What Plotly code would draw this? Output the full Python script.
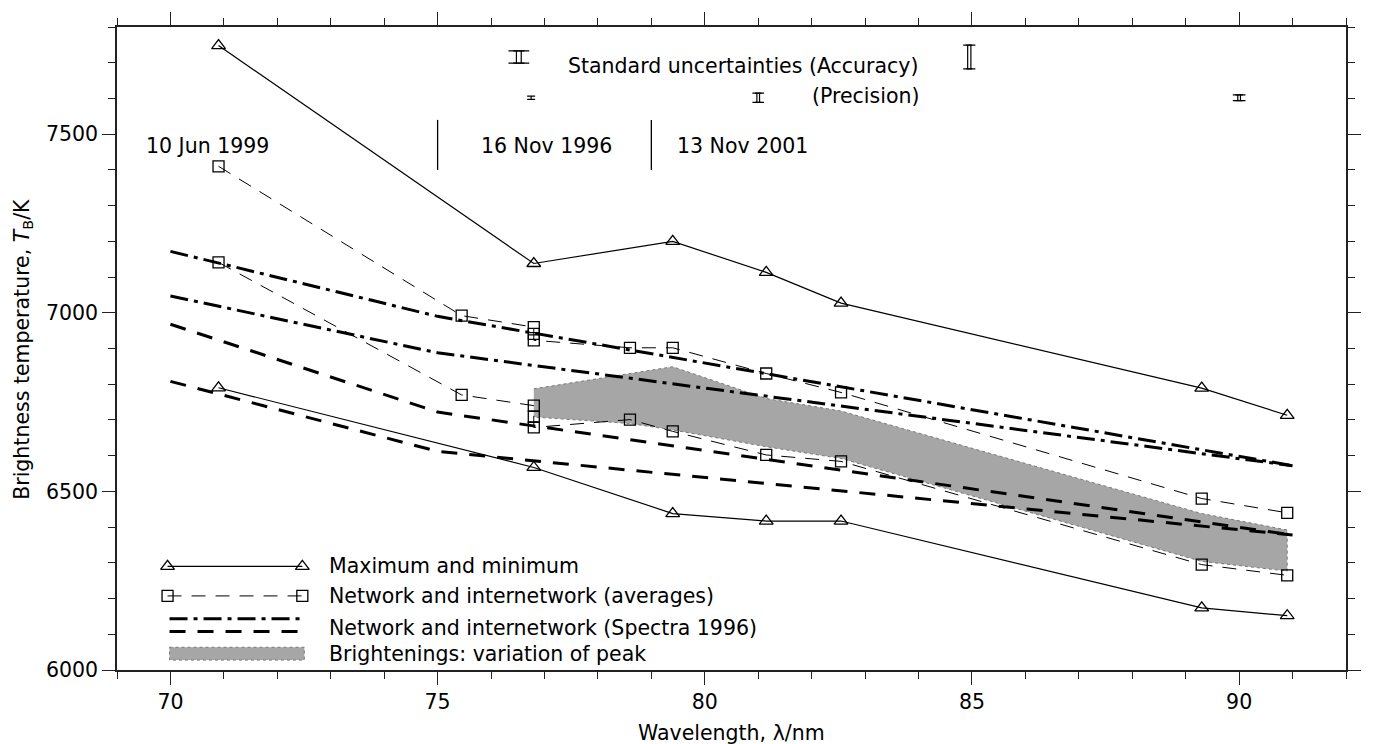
import plotly.graph_objects as go

FONT = "DejaVu Sans"
FS = 20.5

# ---- maximum / minimum brightness temperatures (K) ----
wl_ext = [70.9, 76.8, 79.4, 81.15, 82.55, 89.3, 90.9]
t_max = [7748, 7138, 7200, 7113, 7027, 6789, 6713]
t_min = [6790, 6567, 6438, 6417, 6417, 6174, 6152]

# ---- network / internetwork averages ----
wl_avg = [70.9, 75.45, 76.8, 76.8, 76.8, 78.6, 79.4, 81.15, 82.55, 89.3, 90.9]
t_net_avg = [7410, 6992, 6960, 6941, 6923, 6902, 6902, 6830, 6777, 6480, 6440]
t_inet_avg = [7141, 6770, 6740, 6709, 6679, 6701, 6668, 6602, 6584, 6295, 6265]

# ---- network / internetwork from the 1996 spectra ----
wl_spec = [70.0, 75.0, 91.0]
t_net_spec_a = [7172, 6990, 6572]
t_net_spec_b = [7047, 6888, 6572]
t_inet_spec_a = [6968, 6722, 6378]
t_inet_spec_b = [6808, 6612, 6378]

# ---- brightenings: range of peak values ----
wl_band_top = [76.8, 79.4, 81.15, 82.55, 89.3, 90.9]
t_band_top = [6787, 6849, 6760, 6725, 6438, 6392]
wl_band_bot = [76.8, 78.6, 79.4, 81.15, 82.55, 89.3, 90.9]
t_band_bot = [6708, 6690, 6672, 6625, 6592, 6304, 6277]

# ---- standard uncertainty markers ----
acc_wl = [76.52, 84.95]
acc_half = [17, 33]
acc_cap = [8, 4.5]
acc_T = 7716
prec_wl = [76.75, 81.0, 90.0]
prec_half = [4.6, 13, 8]
prec_cap = [4, 4.5, 5]
prec_T = 7602

# ---- observation dates ----
date_labels = ["10 Jun 1999", "16 Nov 1996", "13 Nov 2001"]
date_wl = [70.7, 77.03, 80.7]
date_T = 7468
date_breaks = [75, 79]

legend_labels = [
    "Maximum and minimum",
    "Network and internetwork (averages)",
    "Network and internetwork (Spectra 1996)",
    "Brightenings: variation of peak",
]

W, H = 1373, 744
ML, MR, MT, MB = 117, 16, 19, 74
PW, PH = W - ML - MR, H - MT - MB


def px_to_paper_x(px):
    return (px - ML) / PW


def px_to_paper_y(py):
    return (H - MB - py) / PH


fig = go.Figure()

# shaded band
fig.add_trace(go.Scatter(
    x=wl_band_top + wl_band_bot[::-1],
    y=t_band_top + t_band_bot[::-1],
    fill="toself", fillcolor="#a6a6a6", mode="lines",
    line=dict(color="#7a7a7a", width=1, dash="dot"),
    hoverinfo="skip", showlegend=False))

DASHDOT = "18px,6px,4px,6px"
DASHED = "16px,12px"
for ys in (t_net_spec_a, t_net_spec_b):
    fig.add_trace(go.Scatter(x=wl_spec, y=ys, mode="lines",
                             line=dict(color="black", width=3, dash=DASHDOT),
                             showlegend=False))
for ys in (t_inet_spec_a, t_inet_spec_b):
    fig.add_trace(go.Scatter(x=wl_spec, y=ys, mode="lines",
                             line=dict(color="black", width=3, dash=DASHED),
                             showlegend=False))

AVG_DASH = "14px,10px"
for ys in (t_net_avg, t_inet_avg):
    fig.add_trace(go.Scatter(x=wl_avg, y=ys, mode="lines+markers",
                             line=dict(color="black", width=1, dash=AVG_DASH),
                             marker=dict(symbol="square-open", size=11, color="black",
                                         line=dict(width=1.3)),
                             showlegend=False))

for ys in (t_max, t_min):
    fig.add_trace(go.Scatter(x=wl_ext, y=ys, mode="lines+markers",
                             line=dict(color="black", width=1.2),
                             marker=dict(symbol="triangle-up-open", size=12, color="black",
                                         line=dict(width=1.3)),
                             showlegend=False))


# uncertainty bars, each drawn as a pair of close error bars
def add_bar(wl, T, half, cap, sep):
    xs = [wl - sep, wl + sep] if sep else [wl]
    fig.add_trace(go.Scatter(
        x=xs, y=[T] * len(xs), mode="markers",
        marker=dict(size=1, color="rgba(0,0,0,0)"),
        error_y=dict(type="constant", value=half, color="black", thickness=1.2, width=cap),
        hoverinfo="skip", showlegend=False))


for wl, h, c in zip(acc_wl, acc_half, acc_cap):
    add_bar(wl, acc_T, h, c, 0.045 if c > 5 else 0.03)
for i, (wl, h, c) in enumerate(zip(prec_wl, prec_half, prec_cap)):
    add_bar(wl, prec_T, h, c, 0 if i == 0 else 0.025)

# ---- legend, laid out on a pixel-scaled overlay axis ----
row_y = [565, 595, 627, 654]
lx0, lx1 = 168, 304
fig.add_trace(go.Scatter(x=[lx0, lx1], y=[row_y[0]] * 2, xaxis="x2", yaxis="y2",
                         mode="lines+markers", line=dict(color="black", width=1.2),
                         marker=dict(symbol="triangle-up-open", size=12, color="black",
                                     line=dict(width=1.3)), showlegend=False))
fig.add_trace(go.Scatter(x=[lx0, lx1], y=[row_y[1]] * 2, xaxis="x2", yaxis="y2",
                         mode="lines+markers",
                         line=dict(color="black", width=1, dash=AVG_DASH),
                         marker=dict(symbol="square-open", size=11, color="black",
                                     line=dict(width=1.3)), showlegend=False))
fig.add_trace(go.Scatter(x=[lx0 + 2, lx1 + 2], y=[row_y[2] - 9] * 2, xaxis="x2", yaxis="y2",
                         mode="lines", line=dict(color="black", width=3, dash=DASHDOT),
                         showlegend=False))
fig.add_trace(go.Scatter(x=[lx0 + 2, lx1 + 2], y=[row_y[2] + 4] * 2, xaxis="x2", yaxis="y2",
                         mode="lines", line=dict(color="black", width=3, dash=DASHED),
                         showlegend=False))

shapes = [dict(type="rect", xref="x2", yref="y2", x0=lx0 + 2, x1=lx1 + 2,
               y0=row_y[3] - 7, y1=row_y[3] + 6, fillcolor="#a6a6a6",
               line=dict(color="#7a7a7a", width=1, dash="dot"), layer="above")]
for xb in date_breaks:
    shapes.append(dict(type="line", xref="x", yref="y", x0=xb, x1=xb, y0=7400, y1=7540,
                       line=dict(color="black", width=1.3)))

txt_font = dict(family=FONT, size=FS, color="black")
annotations = []
for txt, yy in zip(legend_labels, row_y):
    annotations.append(dict(text=txt, xref="x2", yref="y2", x=329, y=yy,
                            xanchor="left", yanchor="middle", showarrow=False, font=txt_font))
for txt, xx in zip(date_labels, date_wl):
    annotations.append(dict(text=txt, xref="x", yref="y", x=xx, y=date_T,
                            xanchor="center", yanchor="middle", showarrow=False, font=txt_font))
annotations.append(dict(text="Standard uncertainties (Accuracy)", xref="x", yref="y",
                        x=84.05, y=7692, xanchor="right", yanchor="middle", showarrow=False,
                        font=txt_font))
annotations.append(dict(text="(Precision)", xref="x", yref="y",
                        x=84.05, y=7608, xanchor="right", yanchor="middle", showarrow=False,
                        font=txt_font))
# axis titles
annotations.append(dict(text="Wavelength, \u03bb/nm", xref="paper", yref="paper",
                        x=px_to_paper_x(737), y=px_to_paper_y(734),
                        xanchor="center", yanchor="middle", showarrow=False, font=txt_font))
annotations.append(dict(text="Brightness temperature, <i>T</i><sub>B</sub>/K",
                        xref="paper", yref="paper",
                        x=px_to_paper_x(22), y=px_to_paper_y(345),
                        xanchor="center", yanchor="middle", showarrow=False, textangle=-90,
                        font=txt_font))

axis_common = dict(
    showline=True, linecolor="#222", linewidth=1.5, mirror="ticks",
    ticks="outside", ticklen=13, tickwidth=1.3, tickcolor="#222",
    showgrid=False, zeroline=False,
    tickfont=dict(family=FONT, size=FS, color="black"),
)

fig.update_layout(
    width=W, height=H,
    margin=dict(l=ML, r=MR, t=MT, b=MB),
    paper_bgcolor="white", plot_bgcolor="white",
    showlegend=False,
    xaxis=dict(range=[69, 92], tick0=70, dtick=5,
               minor=dict(dtick=1, ticklen=7, tickwidth=1.3, tickcolor="#222", ticks="outside"),
               **axis_common),
    yaxis=dict(range=[6000, 7800], tick0=6000, dtick=500,
               minor=dict(dtick=100, ticklen=7, tickwidth=1.3, tickcolor="#222", ticks="outside"),
               **axis_common),
    xaxis2=dict(range=[ML, W - MR], overlaying="x", visible=False, anchor="y2"),
    yaxis2=dict(range=[H - MB, MT], overlaying="y", visible=False, anchor="x2"),
    shapes=shapes,
    annotations=annotations,
)

fig.write_html("out.html")
